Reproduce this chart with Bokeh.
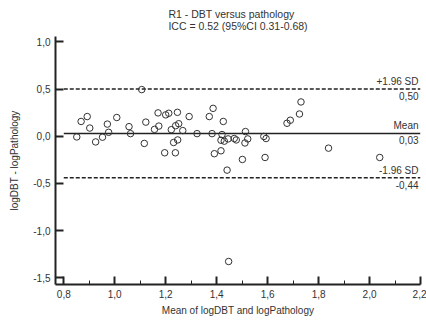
from bokeh.plotting import figure
from bokeh.embed import file_html
from bokeh.resources import INLINE
from bokeh.models import FixedTicker, CustomJSTickFormatter, Range1d
from bokeh.core.properties import value

# Bland-Altman data
mean_vals = [0.851, 0.868, 0.892, 0.902, 0.925, 0.952, 0.971, 0.976, 1.008, 1.056,
             1.062, 1.106, 1.122, 1.116, 1.156, 1.170, 1.173, 1.196, 1.200, 1.212,
             1.222, 1.231, 1.238, 1.239, 1.246, 1.247, 1.251, 1.267, 1.292, 1.323,
             1.371, 1.382, 1.386, 1.391, 1.417, 1.421, 1.426, 1.417, 1.430, 1.441,
             1.445, 1.447, 1.469, 1.477, 1.501, 1.513, 1.522, 1.511, 1.585, 1.594,
             1.590, 1.676, 1.689, 1.725, 1.731, 1.839, 2.040]
diff_vals = [-0.007, 0.157, 0.209, 0.087, -0.060, -0.010, 0.129, 0.042, 0.199, 0.102,
             0.028, 0.495, 0.150, -0.076, 0.073, 0.248, 0.108, -0.175, 0.227, 0.244,
             0.070, -0.066, -0.175, 0.112, 0.254, -0.039, 0.133, 0.060, 0.209, 0.028,
             0.209, 0.028, 0.296, -0.185, -0.154, 0.018, 0.157, -0.042, -0.052, -0.359,
             -0.028, -1.328, -0.024, -0.039, -0.246, 0.050, -0.028, -0.071, -0.002, -0.024,
             -0.225, 0.138, 0.170, 0.236, 0.364, -0.126, -0.225]

line_values = [0.50, 0.03, -0.44]
line_names = ["+1.96 SD", "Mean", "-1.96 SD"]
line_value_labels = ["0,50", "0,03", "-0,44"]
line_dashes = ["4 2", "solid", "4 2"]

x_ticks = [0.8, 1.0, 1.2, 1.4, 1.6, 1.8, 2.0, 2.2]
x_minor = [0.9, 1.1, 1.3, 1.5, 1.7, 1.9, 2.1]
y_ticks = [-1.5, -1.0, -0.5, 0.0, 0.5, 1.0]

FONT = "Liberation Sans"
TXT = "#333333"

p = figure(width=426, height=321, output_backend="svg", toolbar_location=None,
           x_range=Range1d(0.7675, 2.2), y_range=Range1d(-1.572, 1.058),
           min_border_left=55, min_border_right=6, min_border_top=35, min_border_bottom=37)

p.title.text = "R1 - DBT versus pathology\nICC = 0.52 (95%CI 0.31-0.68)"
p.title.align = "center"
p.title.offset = 8
p.title.text_font = FONT
p.title.text_font_size = "10.5px"
p.title.text_font_style = "normal"
p.title.text_color = TXT

p.xgrid.visible = False
p.ygrid.visible = False
p.outline_line_color = None
p.background_fill_color = "white"

fmt = CustomJSTickFormatter(code="return tick.toFixed(1).replace('.', ',');")

p.xaxis.ticker = FixedTicker(ticks=x_ticks, minor_ticks=x_minor)
p.yaxis.ticker = FixedTicker(ticks=y_ticks, minor_ticks=[])
for ax in (p.xaxis, p.yaxis):
    ax.formatter = fmt
    ax.axis_line_width = 2
    ax.axis_line_color = "#222222"
    ax.major_tick_line_color = "#222222"
    ax.major_tick_line_width = 2
    ax.minor_tick_line_color = "#222222"
    ax.minor_tick_line_width = 1
    ax.major_tick_in = 8
    ax.major_tick_out = 0
    ax.minor_tick_in = 4
    ax.minor_tick_out = 0
    ax.major_label_text_font = FONT
    ax.major_label_text_font_size = "10px"
    ax.major_label_text_color = TXT
    ax.axis_label_text_font = FONT
    ax.axis_label_text_font_size = "10px"
    ax.axis_label_text_font_style = "normal"
    ax.axis_label_text_color = TXT
p.xaxis.axis_label = "Mean of logDBT and logPathology"
p.yaxis.axis_label = "logDBT - logPathology"
p.xaxis.major_label_standoff = 5
p.yaxis.major_label_standoff = 5
p.xaxis.axis_label_standoff = 4
p.yaxis.axis_label_standoff = 10

for v, d in zip(line_values, line_dashes):
    p.segment(x0=[x_ticks[0]], x1=[x_ticks[-1]], y0=[v], y1=[v],
              line_color="#222222", line_width=1.5, line_dash=d)

p.text(x=[x_ticks[-1]] * 3, y=line_values, text=line_names, text_align="right",
       text_baseline="bottom", x_offset=-2, y_offset=-2,
       text_font=value(FONT), text_font_size="10px", text_color=TXT)
p.text(x=[x_ticks[-1]] * 3, y=line_values, text=line_value_labels, text_align="right",
       text_baseline="top", x_offset=-2, y_offset=3,
       text_font=value(FONT), text_font_size="10px", text_color=TXT)

p.scatter(mean_vals, diff_vals, marker="circle", size=6.5, fill_color="white",
          fill_alpha=0.0, line_color="#333333", line_width=1)

open("out.html", "w").write(file_html(p, INLINE))
